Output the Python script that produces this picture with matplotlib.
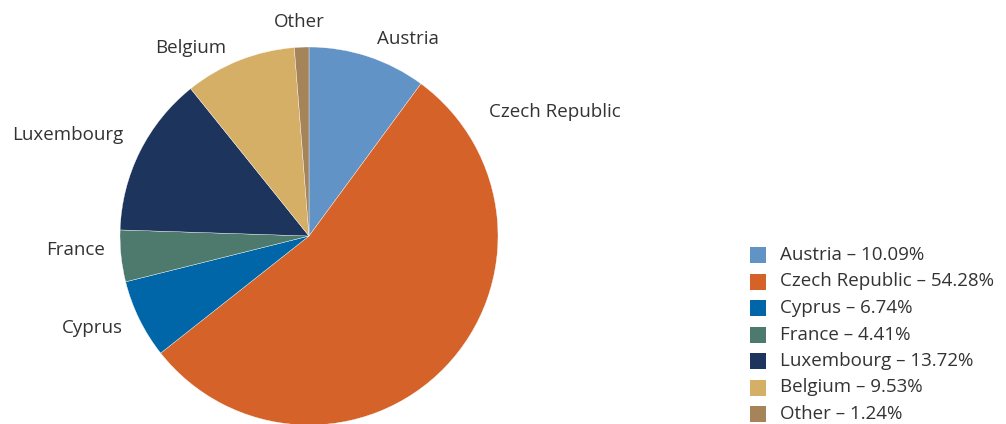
import matplotlib.pyplot as plt

# data
countries = ["Austria", "Czech Republic", "Cyprus", "France",
             "Luxembourg", "Belgium", "Other"]
shares = [10.09, 54.28, 6.74, 4.41, 13.72, 9.53, 1.24]
colors = ["#6193C7", "#D56228", "#0066A8", "#4E7A6E",
          "#1D345C", "#D6AF66", "#A6845A"]

# label anchor positions (pixels, y from top) and alignment
label_pos = [(377, 39), (489, 112), (123, 328), (105, 250),
             (123, 135), (191, 48), (299, 22)]
label_ha = ["left", "left", "right", "right", "right", "center", "center"]

W, H = 1006, 424
FONT = "Open Sans"
FS = 13.5
TXT = "#333333"

fig = plt.figure(figsize=(W / 100, H / 100), dpi=100)
ax = fig.add_axes([0, 0, 1, 1])

cx, cy, r = 309, H - 236, 189
wedges, _ = ax.pie(shares, colors=colors, startangle=90, counterclock=False,
                   center=(cx, cy), radius=r, frame=True,
                   wedgeprops=dict(linewidth=0.25, edgecolor="white"))
for w in wedges:
    w.set_clip_on(False)
ax.set_xlim(0, W)
ax.set_ylim(0, H)
ax.set_aspect("equal")
ax.axis("off")

for name, (x, y), ha in zip(countries, label_pos, label_ha):
    ax.text(x, H - y, name, ha=ha, va="center", fontsize=FS,
            family=FONT, color=TXT)

# legend drawn by hand so the rows line up with the reference
leg_x, leg_y0, row_h, sq = 750, 255, 26.5, 16
for i, (name, v, c) in enumerate(zip(countries, shares, colors)):
    y = H - (leg_y0 + i * row_h)
    ax.add_patch(plt.Rectangle((leg_x, y - sq / 2), sq, sq,
                               facecolor=c, edgecolor="none"))
    ax.text(leg_x + 30, y, f"{name} – {v:.2f}%", ha="left", va="center",
            fontsize=FS, family=FONT, color=TXT)

fig.savefig("out.png", dpi=100)
